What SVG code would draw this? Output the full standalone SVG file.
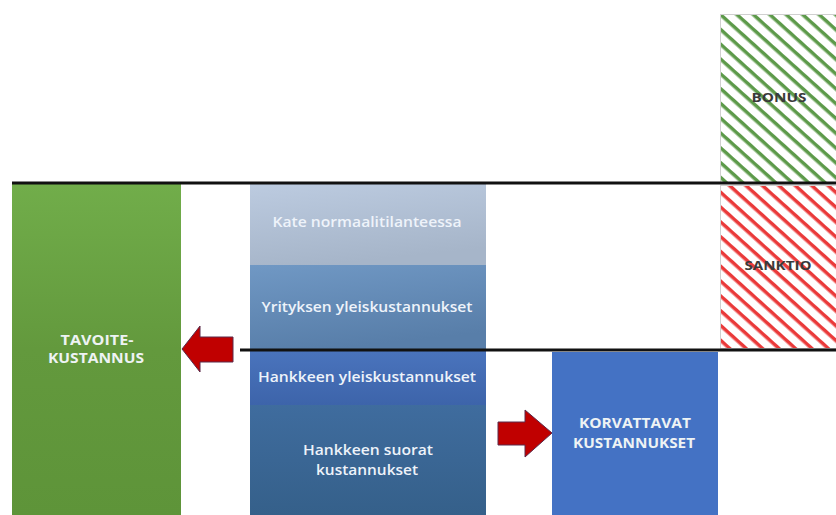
<svg xmlns="http://www.w3.org/2000/svg" width="836" height="515" viewBox="0 0 836 515">
<defs>
<linearGradient id="gGreen" x1="0" y1="0" x2="0" y2="1"><stop offset="0" stop-color="#71ad4a"/><stop offset="0.5" stop-color="#63993d"/><stop offset="1" stop-color="#5e9439"/></linearGradient>
<linearGradient id="gKate" x1="0" y1="0" x2="0.3" y2="1"><stop offset="0" stop-color="#bccbe0"/><stop offset="1" stop-color="#a6b5c9"/></linearGradient>
<linearGradient id="gYrit" x1="0" y1="0" x2="0.3" y2="1"><stop offset="0" stop-color="#7098c4"/><stop offset="1" stop-color="#587ea9"/></linearGradient>
<linearGradient id="gHy" x1="0" y1="0" x2="0" y2="1"><stop offset="0" stop-color="#4a74bd"/><stop offset="1" stop-color="#3d64aa"/></linearGradient>
<linearGradient id="gHs" x1="0" y1="0" x2="0" y2="1"><stop offset="0" stop-color="#3f6c9e"/><stop offset="1" stop-color="#35608a"/></linearGradient>
<pattern id="pGreen" width="11" height="11" patternUnits="userSpaceOnUse" patternTransform="rotate(42)"><rect width="11" height="11" fill="#ffffff"/><rect y="0" width="11" height="3.5" fill="#5d9a4a"/></pattern>
<pattern id="pRed" width="11" height="11" patternUnits="userSpaceOnUse" patternTransform="rotate(42)"><rect width="11" height="11" fill="#ffffff"/><rect y="0" width="11" height="3.5" fill="#ea3a3a"/></pattern>
</defs>
<style>
.lbl{font-family:"Open Sans","Liberation Sans",sans-serif;font-weight:600;font-size:15px;fill:#eef3fa;text-anchor:middle}
.cap{font-family:"Open Sans","Liberation Sans",sans-serif;font-weight:700;font-size:14px;fill:#eef3f4;text-anchor:middle}
.dk{font-family:"Open Sans","Liberation Sans",sans-serif;font-weight:700;font-size:13px;fill:#3a3a3a;text-anchor:middle}
.arrow{fill:#c00000;stroke:#5a2a4a;stroke-width:1}
.ref{stroke:#111;stroke-width:3}
.hatch{stroke:#d0d0d0;stroke-width:1}
</style>
<rect width="836" height="515" fill="#ffffff"/>
<g id="bonus"><rect class="hatch" x="720.5" y="14.5" width="116" height="168" fill="url(#pGreen)"/><text class="dk" x="779" y="102" textLength="55" lengthAdjust="spacingAndGlyphs">BONUS</text></g>
<g id="sanktio"><rect class="hatch" x="720.5" y="185.5" width="116" height="163" fill="url(#pRed)"/><text class="dk" x="778" y="270" textLength="67" lengthAdjust="spacingAndGlyphs">SANKTIO</text></g>
<g id="tavoitekustannus"><rect x="12" y="184" width="169" height="331" fill="url(#gGreen)"/><text class="cap" x="97" y="345" textLength="73" lengthAdjust="spacingAndGlyphs">TAVOITE-</text><text class="cap" x="96" y="363" textLength="96" lengthAdjust="spacingAndGlyphs">KUSTANNUS</text></g>
<g id="kate"><rect x="250" y="184" width="236" height="81" fill="url(#gKate)"/><text class="lbl" x="367" y="227" textLength="189" lengthAdjust="spacingAndGlyphs">Kate normaalitilanteessa</text></g>
<g id="yrityksen"><rect x="250" y="265" width="236" height="85" fill="url(#gYrit)"/><text class="lbl" x="367" y="312" textLength="211" lengthAdjust="spacingAndGlyphs">Yrityksen yleiskustannukset</text></g>
<g id="hankkeen-yleis"><rect x="250" y="350" width="236" height="55" fill="url(#gHy)"/><text class="lbl" x="367" y="382" textLength="218" lengthAdjust="spacingAndGlyphs">Hankkeen yleiskustannukset</text></g>
<g id="hankkeen-suorat"><rect x="250" y="405" width="236" height="110" fill="url(#gHs)"/><text class="lbl" x="368" y="455" textLength="130" lengthAdjust="spacingAndGlyphs">Hankkeen suorat</text><text class="lbl" x="367" y="475" textLength="102" lengthAdjust="spacingAndGlyphs">kustannukset</text></g>
<g id="korvattavat"><rect x="552" y="352" width="166" height="163" fill="#4472c4"/><text class="cap" x="635" y="428" textLength="112" lengthAdjust="spacingAndGlyphs">KORVATTAVAT</text><text class="cap" x="634" y="448" textLength="122" lengthAdjust="spacingAndGlyphs">KUSTANNUKSET</text></g>
<g id="lines"><line class="ref" x1="12" y1="183" x2="836" y2="183"/><line class="ref" x1="240" y1="350" x2="836" y2="350"/></g>
<g id="connectors">
<polygon class="arrow" points="182,349 200,326 200,337 233,337 233,362 200,362 200,372"/>
<polygon class="arrow" points="552,433 525,410 525,422 498,422 498,445 525,445 525,457"/>
</g>
</svg>
